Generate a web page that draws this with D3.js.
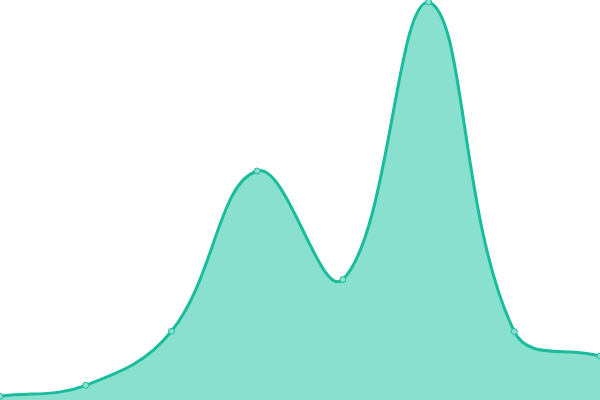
<!DOCTYPE html>
<html><head><meta charset="utf-8">
<script src="https://cdn.jsdelivr.net/npm/d3@7"></script>
<style>html,body{margin:0;padding:0;background:#fff;}svg{display:block;}</style>
</head><body>
<svg id="c" width="600" height="400"></svg>
<script>
const categories = ["A","B","C","D","E","F","G","H"];
const values = [3.7, 14.7, 68.7, 229, 120.5, 398, 68.5, 44];

const W = 600, H = 400;
const svg = d3.select("#c");
const x = d3.scalePoint().domain(categories).range([0, W]);
const y = d3.scaleLinear().domain([0, 400]).range([H, 0]);
const data = categories.map((c, i) => ({c, v: values[i]}));

// Distance-weighted cubic spline (tension 0.4), control points capped to the plot area
function Spline(context, t) { this._context = context; this._t = t; }
Spline.prototype = {
  areaStart() { this._line = 0; },
  areaEnd() { this._line = NaN; },
  lineStart() { this._pts = []; },
  point(px, py) { this._pts.push([+px, +py]); },
  lineEnd() {
    const p = this._pts, n = p.length, ctx = this._context, t = this._t;
    if (n) {
      this._line ? ctx.lineTo(p[0][0], p[0][1]) : ctx.moveTo(p[0][0], p[0][1]);
      const cap = v => [Math.max(0, Math.min(W, v[0])), Math.max(0, Math.min(H, v[1]))];
      const cps = p.map((cur, i) => {
        const prev = i > 0 ? p[i - 1] : cur, next = i < n - 1 ? p[i + 1] : cur;
        const d01 = Math.hypot(cur[0] - prev[0], cur[1] - prev[1]);
        const d12 = Math.hypot(next[0] - cur[0], next[1] - cur[1]);
        let s01 = d01 / (d01 + d12), s12 = d12 / (d01 + d12);
        if (isNaN(s01)) s01 = 0;
        if (isNaN(s12)) s12 = 0;
        const fa = t * s01, fb = t * s12;
        return {
          a: cap([cur[0] - fa * (next[0] - prev[0]), cur[1] - fa * (next[1] - prev[1])]),
          b: cap([cur[0] + fb * (next[0] - prev[0]), cur[1] + fb * (next[1] - prev[1])])
        };
      });
      for (let i = 1; i < n; i++)
        ctx.bezierCurveTo(cps[i-1].b[0], cps[i-1].b[1], cps[i].a[0], cps[i].a[1], p[i][0], p[i][1]);
    }
    if (this._line || (this._line !== 0 && n === 1)) ctx.closePath();
    this._line = 1 - this._line;
  }
};
const curve = ctx => new Spline(ctx, 0.4);

svg.append("path").datum(data)
  .attr("d", d3.area().x(d => x(d.c)).y0(H).y1(d => y(d.v)).curve(curve))
  .attr("fill", "#89e0cf");
svg.append("path").datum(data)
  .attr("d", d3.line().x(d => x(d.c)).y(d => y(d.v)).curve(curve))
  .attr("fill", "none").attr("stroke", "#1abc9c").attr("stroke-width", 3)
  .attr("stroke-linejoin", "round");
svg.selectAll("circle.pt").data(data).join("circle")
  .attr("class", "pt")
  .attr("cx", d => x(d.c)).attr("cy", d => y(d.v)).attr("r", 3)
  .attr("fill", "#89e0cf").attr("stroke", "#1abc9c").attr("stroke-width", 1);
</script>
</body></html>
